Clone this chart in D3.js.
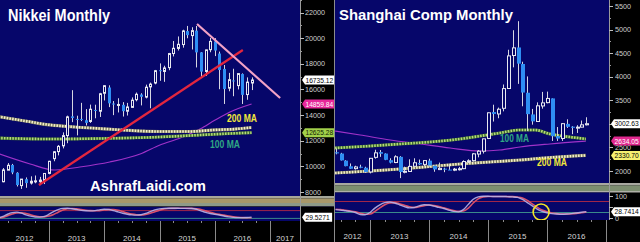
<!DOCTYPE html>
<html><head><meta charset="utf-8">
<script src="https://cdn.jsdelivr.net/npm/d3@7/dist/d3.min.js"></script>
<style>html,body{margin:0;padding:0;background:#000;overflow:hidden}svg{display:block}</style>
</head><body>
<svg id="chart" width="640" height="242"></svg>
<script>
// ================= DATA =================
const years = [2012, 2013, 2014, 2015, 2016, 2017];

// Nikkei monthly OHLC, first entry = Jan 2012 (month index 0)
const nikkeiStart = 0;
const nikkeiOHLC = [
 [8549,8928,8349,8803],[8800,9866,8757,9723],[9702,10255,9708,10084],[10110,10190,9388,9521],
 [9500,9543,8430,8543],[8500,9007,8238,9007],[9000,9136,8328,8695],[8700,9222,8580,8840],
 [8800,9288,8680,8870],[8800,9180,8534,8928],[8900,9460,8620,9446],[9450,10433,9380,10395],
 [10600,11191,10398,11139],[11150,11662,10857,11559],[11600,12650,11400,12398],[12400,13956,11805,13861],
 [13900,15942,13448,13775],[13700,13950,12415,13677],[13700,14953,13527,13668],[13600,14466,13188,13389],
 [13500,14817,13388,14456],[14400,14808,13748,14327],[14300,15734,13853,15662],[15700,16320,15138,16291],
 [16150,16320,14620,14915],[14900,15095,13995,14841],[14800,15312,14203,14828],[14800,15008,13885,14304],
 [14300,14949,13964,14632],[14600,15376,14550,15162],[15200,15759,15070,15621],[15600,15700,14753,15425],
 [15400,16374,15300,16174],[16200,16533,14529,16414],[16500,17520,16400,17460],[17500,18030,16672,17451],
 [17400,17850,16592,17674],[17700,18850,17500,18798],[18800,19778,18574,19207],[19200,20133,19034,19520],
 [19500,20655,19258,20563],[20550,20952,19990,20236],[20200,20850,19115,20585],[20585,20946,17714,18890],
 [18890,18910,16901,17388],[17400,19100,17050,19083],[19100,20012,18900,19747],[19750,20000,18600,19034],
 [18800,18951,16017,17518],[17600,17905,14865,16027],[16100,17291,15857,16759],[16700,17613,15471,16666],
 [16300,17251,16000,17235],[17200,17251,14864,15576],[15600,16938,15194,16569],[16500,16938,15950,16735]
];
// Shanghai Composite monthly OHLC, first entry = May 2012 (month index 4)
const sseStart = 4;
const sseOHLC = [
 [2397,2478,2354,2373],[2370,2385,2222,2225],[2220,2230,2100,2103],[2100,2160,2043,2047],
 [2050,2112,2029,2086],[2090,2133,2059,2069],[2070,2090,1959,1980],[1980,2276,1949,2269],
 [2290,2451,2262,2385],[2400,2445,2300,2366],[2370,2375,2230,2237],[2230,2270,2162,2178],
 [2180,2334,2166,2301],[2300,2315,1849,1979],[1980,2092,1950,1994],[1990,2248,1991,2098],
 [2100,2270,2095,2175],[2170,2243,2129,2141],[2140,2228,2105,2221],[2220,2260,2094,2116],
 [2110,2113,1984,2033],[2030,2178,2020,2056],[2050,2069,1975,2033],[2030,2147,2023,2026],
 [2020,2065,1997,2039],[2040,2087,2010,2048],[2050,2227,2039,2201],[2200,2248,2167,2217],
 [2220,2380,2202,2364],[2360,2445,2290,2420],[2420,2684,2371,2682],[2690,3239,2677,3235],
 [3250,3406,3049,3210],[3210,3345,3119,3310],[3330,3835,3265,3748],[3750,4572,3743,4442],
 [4450,4986,4199,4612],[4620,5178,3848,4277],[4270,4318,3373,3664],[3660,4006,2851,3206],
 [3200,3317,2983,3053],[3050,3456,3040,3383],[3380,3678,3322,3445],[3450,3684,3435,3539],
 [3540,3540,2638,2738],[2740,2933,2638,2688],[2690,3018,2638,3004],[3000,3097,2914,2938],
 [2940,2950,2780,2917],[2920,2972,2807,2930],[2930,3070,2926,2979],[2980,3140,2967,3003]
];

// Moving averages: [month position (0 = Jan 2012), value]
const nikkeiMA200 = [[1,13880],[6.8,13540],[12.2,13230],[17.6,13070],[23.1,12950],[29.6,12800],[36.1,12720],[42.6,12720],[48,12840],[52.4,12910],[56,13030]];
const nikkeiMA100 = [[1,12210],[12.2,12133],[23.1,12172],[36.1,12289],[44.8,12445],[51.3,12562],[56,12625]];
const nikkeiMA60  = [[1,10990],[7.9,10183],[13.3,9715],[18.7,9949],[25.2,10339],[31.8,10963],[36.1,11665],[40.5,12211],[44.8,12913],[48.1,13615],[51.3,14239],[56,14860]];
const sseMA100 = [[4.9,2488],[12,2530],[18.1,2573],[24.2,2615],[30.3,2679],[34.4,2742],[38.4,2806],[42.5,2870],[45.6,2870],[48.6,2785],[52.7,2721],[55.9,2679]];
const sseMA60  = [[4.9,2848],[10,2763],[16.1,2657],[22.2,2573],[28.3,2488],[34.4,2424],[38.4,2445],[42.5,2509],[48.6,2573],[55.9,2634]];
const sseMA200 = [[4.9,1957],[12,2000],[18.1,2042],[24.2,2095],[30.3,2148],[36.4,2191],[42.5,2233],[48.6,2286],[55.9,2331]];

// Trend lines on the Nikkei
const nikkeiSupport = [[9.8,8545],[54.1,19075]];
const nikkeiResist  = [[44.15,21100],[62.2,15330]];

// Stochastics (monthly), Nikkei from Jan 2012, SSE from May 2012
const nikkeiStochK = [22,35,52,64,68,60,47,37,31,30,36,52,72,88,97,98,94,88,82,79,78,80,86,90,88,80,70,60,52,47,45,48,58,72,85,93,97,98,98,98,97,97,96,90,78,66,58,52,46,38,32,28,26,26,27,29.5];
const nikkeiStochD = [25,28,40,53,62,64,58,48,38,33,32,38,50,68,84,94,96,93,88,83,80,79,80,84,88,88,83,73,62,53,48,46,50,59,71,83,92,96,97,98,98,97,97,94,88,78,67,58,51,45,38,33,29,26,25,25];
const sseStochK = [38,36,33,30,25,16,15,25,45,60,70,73,68,60,52,46,48,55,60,59,54,48,43,36,30,28,38,62,85,96,99,99,98,98,98,97,96,94,85,70,55,40,30,24,20,18,17,18,20,23,26,28.7];
const sseStochD = [40,38,35,32,28,22,17,18,30,46,60,68,70,65,58,51,48,51,56,59,57,52,46,40,34,30,32,45,68,87,96,98,98,98,98,97,97,95,91,80,64,49,36,28,23,20,18,18,19,21,24,27];
const nikkeiStochLevels = [80, 20];
const sseStochLevels = [75, 25];

// Axis ticks and last-value tags
const nikkeiTicks = [8000,10000,12000,14000,16000,18000,20000,22000];
const sseTicks = [2000,2500,3000,3500,4000,4500,5000,5500];
const sseStochTicks = [0,50,100];
const nikkeiTags = [["16735.12",16735.12],["14859.84",14859.84],["12625.28",12625.28]];
const nikkeiStochTag = ["29.5271",29.5271];
const sseTags = [["3002.63",3002.63],["2634.05",2634.05],["2330.70",2330.70]];
const sseStochTag = ["28.7414",28.7414];

// ================= DRAWING =================
const FONT = "'Liberation Sans', Arial, Helvetica, sans-serif";
const NAVY = '#06066a';
const svg = d3.select('#chart');
svg.append('rect').attr('width',640).attr('height',242).attr('fill','#000');
const defs = svg.append('defs');
function clip(id,x,y,w,h){ defs.append('clipPath').attr('id',id).append('rect').attr('x',x).attr('y',y).attr('width',w).attr('height',h); return `url(#${id})`; }

function maLine(g, pts, x, y, kind){
  const line = d3.line().x(d=>x(d[0])).y(d=>y(d[1])).curve(d3.curveMonotoneX);
  if (kind === 'cream') {
    g.append('path').attr('d',line(pts)).attr('fill','none').attr('stroke','#7e7c62').attr('stroke-width',3.2);
    g.append('path').attr('d',line(pts)).attr('fill','none').attr('stroke','#f6f2cc').attr('stroke-width',2.6).attr('stroke-dasharray','1.5 1.3');
  } else if (kind === 'green') {
    g.append('path').attr('d',line(pts)).attr('fill','none').attr('stroke','#3f6a32').attr('stroke-width',3.2);
    g.append('path').attr('d',line(pts)).attr('fill','none').attr('stroke','#b6dc7a').attr('stroke-width',2.6).attr('stroke-dasharray','1.5 1.3');
  } else {
    g.append('path').attr('d',line(pts)).attr('fill','none').attr('stroke','#a032c8').attr('stroke-width',1.2);
  }
}
function candles(g, data, start, x, y, w){
  const rows = data.map((d,i)=>({m:start+i,o:d[0],h:d[1],l:d[2],c:d[3]}));
  const cg = g.selectAll('g.cdl').data(rows).join('g').attr('class','cdl');
  cg.append('line')
    .attr('x1',d=>Math.round(x(d.m+1))+0.5).attr('x2',d=>Math.round(x(d.m+1))+0.5)
    .attr('y1',d=>y(d.h)).attr('y2',d=>y(d.l)).attr('stroke','#d6d6e2').attr('stroke-width',1);
  cg.append('rect')
    .attr('x',d=>{const c=Math.round(x(d.m+1)); return d.c>=d.o? c-0.5 : c-1;})
    .attr('width',d=> d.c>=d.o ? w-1 : w)
    .attr('y',d=>y(Math.max(d.o,d.c)))
    .attr('height',d=>Math.max(1,Math.abs(y(d.o)-y(d.c))))
    .attr('fill',d=>d.c>=d.o?NAVY:'#2f8ef4')
    .attr('stroke',d=>d.c>=d.o?'#e8e8f0':'none').attr('stroke-width',1);
}
function stoch(g, K, D, start, x, y){
  const line = d3.line().x((d,i)=>x(start+i+1)).y(d=>y(d)).curve(d3.curveMonotoneX);
  g.append('path').attr('d',line(D)).attr('fill','none').attr('stroke','#d8506a').attr('stroke-width',1.6);
  g.append('path').attr('d',line(K)).attr('fill','none').attr('stroke','#b8b2e6').attr('stroke-width',1.4).attr('opacity',0.9);
}
function tag(g, x, y, txt, bg, fg){
  const tw = txt.length*3.45;
  const w = tw + 6;
  g.append('path').attr('d',`M${x},${y} L${x+3},${y-4.5} L${x+w},${y-4.5} L${x+w},${y+4.5} L${x+3},${y+4.5} Z`).attr('fill',bg);
  g.append('text').attr('x',x+3.5).attr('y',y).attr('dy','0.35em').attr('font-family',FONT).attr('font-size',7.2).attr('fill',fg)
    .attr('textLength',tw).attr('lengthAdjust','spacingAndGlyphs').text(txt);
}
function hiddenByTag(py, tagYs){ return tagYs.some(ty => Math.abs(ty-py) < 5); }
function yearAxis(g, x, left, right, top, bottom, labelY){
  years.forEach(yr=>{
    const px = x((yr-2012)*12);
    if (px>left+1 && px<right-1) g.append('line').attr('x1',Math.round(px)+0.5).attr('x2',Math.round(px)+0.5).attr('y1',top).attr('y2',bottom).attr('stroke','#8a8a8a').attr('stroke-width',1);
    const a = Math.max(left, x((yr-2012)*12)), b = Math.min(right, x((yr-2011)*12));
    if (b-a>15) g.append('text').attr('x',(a+b)/2).attr('y',labelY).attr('text-anchor','middle').attr('font-family',FONT).attr('font-size',8).attr('fill','#d4d4d4').text(yr);
  });
  for (let t=0;t<=60;t+=3){ const px=x(t); if(px>left && px<right) g.append('line').attr('x1',Math.round(px)+0.5).attr('x2',Math.round(px)+0.5).attr('y1',top).attr('y2',top+2).attr('stroke','#8a8a8a'); }
}

// ---------- LEFT PANEL: Nikkei ----------
{
  const L = svg.append('g');
  const xL = d3.scaleLinear().domain([0,60]).range([-6.25,270]);
  const yL = d3.scaleLinear().domain([8000,22000]).range([192,12.5]);
  const sL = d3.scaleLinear().domain([0,100]).range([221,208]);
  L.append('rect').attr('x',0).attr('y',0).attr('width',300).attr('height',196).attr('fill',NAVY);
  [[196,198.5,'#a6a699'],[198.5,203,'#a8986a'],[203,206,'#8e9a88'],[206,207,'#2a2a3a']].forEach(s=>
    L.append('rect').attr('x',0).attr('y',s[0]).attr('width',334).attr('height',s[1]-s[0]).attr('fill',s[2]));
  L.append('rect').attr('x',0).attr('y',207).attr('width',300).attr('height',14).attr('fill',NAVY);

  const main = L.append('g').attr('clip-path',clip('cL',0,0,300,196));
  maLine(main, nikkeiMA60, xL, yL, 'purple');
  maLine(main, nikkeiMA200, xL, yL, 'cream');
  maLine(main, nikkeiMA100, xL, yL, 'green');
  candles(main, nikkeiOHLC, nikkeiStart, xL, yL, 3);
  const tl = d3.line().x(d=>xL(d[0])).y(d=>yL(d[1]));
  main.append('path').attr('d',tl(nikkeiSupport)).attr('stroke','#e3263e').attr('stroke-width',2.2).attr('fill','none');
  main.append('path').attr('d',tl(nikkeiResist)).attr('stroke','#f3a2c6').attr('stroke-width',2.2).attr('fill','none');
  main.append('text').attr('x',8).attr('y',21).attr('font-family',FONT).attr('font-weight','bold').attr('font-size',16).attr('fill','#fff')
    .attr('textLength',102).attr('lengthAdjust','spacingAndGlyphs').text('Nikkei Monthly');
  main.append('text').attr('x',90).attr('y',191).attr('font-family',FONT).attr('font-weight','bold').attr('font-size',15).attr('fill','#fff')
    .attr('textLength',116).attr('lengthAdjust','spacingAndGlyphs').text('AshrafLaidi.com');
  main.append('text').attr('x',227).attr('y',122).attr('font-family',FONT).attr('font-weight','bold').attr('font-size',10.5).attr('fill','#f2e83c')
    .attr('textLength',30).attr('lengthAdjust','spacingAndGlyphs').text('200 MA');
  main.append('text').attr('x',210).attr('y',148).attr('font-family',FONT).attr('font-weight','bold').attr('font-size',10.5).attr('fill','#2fa884')
    .attr('textLength',30).attr('lengthAdjust','spacingAndGlyphs').text('100 MA');

  const low = L.append('g').attr('clip-path',clip('cL2',0,207,300,14));
  nikkeiStochLevels.forEach((lv,i)=> low.append('line').attr('x1',0).attr('x2',300).attr('y1',sL(lv)).attr('y2',sL(lv))
     .attr('stroke', i===0?'#a02648':'#3a8a8a').attr('stroke-width',1));
  stoch(low, nikkeiStochK, nikkeiStochD, nikkeiStart, xL, sL);

  L.append('line').attr('x1',300.5).attr('x2',300.5).attr('y1',0).attr('y2',242).attr('stroke','#9a9a9a');
  const ax = L.append('g');
  const tagYs = nikkeiTags.map(t=>yL(t[1]));
  nikkeiTicks.forEach(v=>{
    ax.append('line').attr('x1',300).attr('x2',304).attr('y1',Math.round(yL(v))+0.5).attr('y2',Math.round(yL(v))+0.5).attr('stroke','#bdbdbd');
    ax.append('line').attr('x1',300).attr('x2',302).attr('y1',Math.round(yL(v+1000))+0.5).attr('y2',Math.round(yL(v+1000))+0.5).attr('stroke','#9a9a9a');
    if (!hiddenByTag(yL(v), tagYs))
      ax.append('text').attr('x',305).attr('y',yL(v)).attr('dy','0.35em').attr('font-family',FONT).attr('font-size',7.2).attr('fill','#d0d0d0').text(v);
  });
  const tagColors = [['#ffffff','#000'],['#e6289a','#fff'],['#a2d04a','#102000']];
  nikkeiTags.forEach((t,i)=> tag(ax, 302, yL(t[1]), t[0], tagColors[i][0], tagColors[i][1]));
  tag(ax, 302, sL(nikkeiStochTag[1]), nikkeiStochTag[0], '#ffffff', '#000');
  yearAxis(L, xL, 0, 300, 221, 242, 241);
}

// ---------- RIGHT PANEL: Shanghai ----------
{
  const R = svg.append('g');
  const xR = d3.scaleLinear().domain([0,60]).range([311,606]);
  const yR = d3.scaleLinear().domain([2000,5500]).range([171,6]);
  const sR = d3.scaleLinear().domain([0,100]).range([218,196]);
  R.append('rect').attr('x',334).attr('y',0).attr('width',306).attr('height',242).attr('fill','#000');
  R.append('rect').attr('x',335).attr('y',0).attr('width',274).attr('height',183).attr('fill',NAVY);
  [[183,185.5,'#a8a8a0'],[185.5,191,'#7d8e70'],[191,192.5,'#b0b0a8']].forEach(s=>
    R.append('rect').attr('x',335).attr('y',s[0]).attr('width',305).attr('height',s[1]-s[0]).attr('fill',s[2]));
  R.append('rect').attr('x',335).attr('y',192.5).attr('width',274).attr('height',27.5).attr('fill',NAVY);
  R.append('line').attr('x1',334.5).attr('x2',334.5).attr('y1',0).attr('y2',242).attr('stroke','#8c8c8c');

  const main = R.append('g').attr('clip-path',clip('cR',335,0,274,183));
  maLine(main, sseMA60, xR, yR, 'purple');
  maLine(main, sseMA200, xR, yR, 'cream');
  maLine(main, sseMA100, xR, yR, 'green');
  candles(main, sseOHLC, sseStart, xR, yR, 4);
  main.append('text').attr('x',339).attr('y',20).attr('font-family',FONT).attr('font-weight','bold').attr('font-size',15.5).attr('fill','#fff')
    .attr('textLength',174).attr('lengthAdjust','spacingAndGlyphs').text('Shanghai Comp Monthly');
  main.append('text').attr('x',500).attr('y',142).attr('font-family',FONT).attr('font-weight','bold').attr('font-size',10.5).attr('fill','#2fa884')
    .attr('textLength',29).attr('lengthAdjust','spacingAndGlyphs').text('100 MA');
  main.append('text').attr('x',537).attr('y',166).attr('font-family',FONT).attr('font-weight','bold').attr('font-size',10.5).attr('fill','#f2e83c')
    .attr('textLength',30).attr('lengthAdjust','spacingAndGlyphs').text('200 MA');

  const low = R.append('g').attr('clip-path',clip('cR2',335,192.5,274,27.5));
  sseStochLevels.forEach((lv,i)=> low.append('line').attr('x1',335).attr('x2',609).attr('y1',sR(lv)).attr('y2',sR(lv))
     .attr('stroke', i===0?'#a02648':'#3a8a8a').attr('stroke-width',1));
  stoch(low, sseStochK, sseStochD, sseStart, xR, sR);
  low.append('circle').attr('cx',xR(46.8)).attr('cy',sR(27)).attr('r',8).attr('fill','none').attr('stroke','#f2e426').attr('stroke-width',1.6);

  R.append('line').attr('x1',609.5).attr('x2',609.5).attr('y1',0).attr('y2',220).attr('stroke','#9a9a9a');
  const ax = R.append('g');
  const tagYs = sseTags.map(t=>yR(t[1]));
  sseTicks.forEach(v=>{
    ax.append('line').attr('x1',609).attr('x2',613).attr('y1',Math.round(yR(v))+0.5).attr('y2',Math.round(yR(v))+0.5).attr('stroke','#bdbdbd');
    ax.append('line').attr('x1',609).attr('x2',611).attr('y1',Math.round(yR(v+250))+0.5).attr('y2',Math.round(yR(v+250))+0.5).attr('stroke','#9a9a9a');
    if (!hiddenByTag(yR(v), tagYs))
      ax.append('text').attr('x',615).attr('y',yR(v)).attr('dy','0.35em').attr('font-family',FONT).attr('font-size',7.2).attr('fill','#d0d0d0').text(v);
  });
  const stochTagY = [sR(sseStochTag[1])];
  sseStochTicks.forEach(v=>{
    ax.append('line').attr('x1',609).attr('x2',613).attr('y1',Math.round(sR(v))+0.5).attr('y2',Math.round(sR(v))+0.5).attr('stroke','#bdbdbd');
    if (!hiddenByTag(sR(v), stochTagY))
      ax.append('text').attr('x',615).attr('y',sR(v)).attr('dy','0.35em').attr('font-family',FONT).attr('font-size',7.2).attr('fill','#d0d0d0').text(v);
  });
  const tagColors = [['#ffffff','#000'],['#e0288e','#fff'],['#f6f070','#000']];
  sseTags.forEach((t,i)=> tag(ax, 611, yR(t[1]), t[0], tagColors[i][0], tagColors[i][1]));
  tag(ax, 611, stochTagY[0], sseStochTag[0], '#ffffff', '#000');
  yearAxis(R, xR, 335, 609, 220, 242, 238.5);
}
</script>
</body></html>
